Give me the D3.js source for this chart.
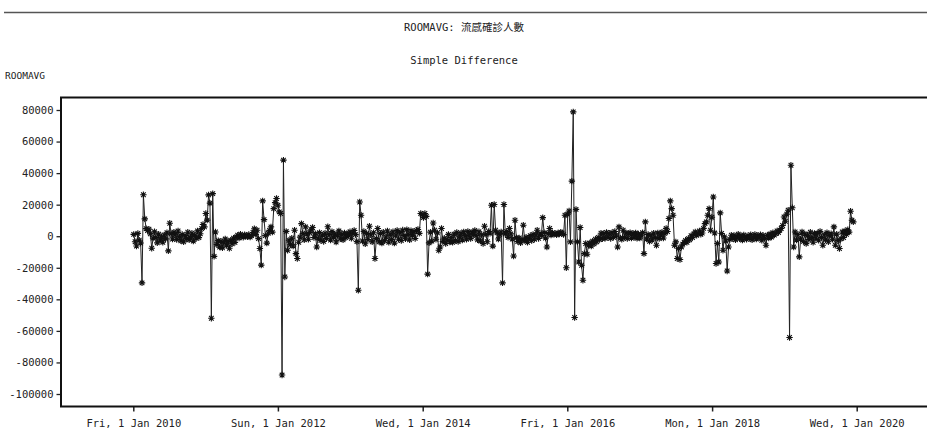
<!DOCTYPE html>
<html>
<head>
<meta charset="utf-8">
<script src="https://cdn.jsdelivr.net/npm/d3@7"></script>
<style>
  html, body { margin: 0; padding: 0; background: #fff; }
  svg { display: block; }
  text { font-family: "DejaVu Sans Mono", "Noto Sans CJK TC", monospace; fill: #222; }
</style>
</head>
<body>
<svg id="chart" width="927" height="437"></svg>
<script>
// Weekly first differences of confirmed influenza cases (ROOMAVG), one array per year.
const seriesName = "ROOMAVG";
const titleText = "ROOMAVG: 流感確診人數";
const subtitleText = "Simple Difference";
const firstWeek = new Date(2010, 0, 3);

const diff2010 = [1200,-3500,-6200,1800,-2500,-4300,-29600,26300,11000,4800,3600,4500,1500,-7600,-1200,2800,-900,-4200,1300,-2600,-500,-3800,800,-1700,2200,-9300,8200,1500,-1800,2600,900,-2100,3300,-400,-2900,1200,-3600,400,-1500,2500,-2200,-600,1900,-3100,700,-1300,3400,-900,1600,4800,7400,5900];
const diff2011 = [14400,10200,26200,21000,-52000,27000,-12800,2700,-5200,-2800,-6900,-3100,-7400,-4200,-1800,-5600,-3300,-7600,-2500,-4800,-1200,-3900,-400,600,-1100,1300,200,-700,900,300,-300,1100,-600,400,2400,4700,1200,3800,-1500,-7800,-18300,22400,10500,400,-4400,1900,3700,5900,2600,17500,21300,23900];
const diff2012 = [19600,15400,14400,-88000,48200,-25800,3100,-8900,-2600,-5400,-1300,-6200,3800,-11000,-14100,-3800,-600,8000,1700,-2200,5900,1300,-1900,2400,4000,5500,-800,1600,-6800,-1200,2300,-2800,700,-3300,1900,-1400,6000,1100,-2500,2900,-600,1400,-3700,800,3400,-1700,1200,-2300,2000,-900,1500,600];
const diff2013 = [2800,-1300,1900,3600,1000,-3400,-34200,21700,13300,-3000,3100,-4800,1700,-2100,6300,900,-3600,2200,-14100,-1500,4900,-3600,1800,-4400,2500,-2900,-500,3300,-3800,1300,-2100,2800,-4400,600,3600,-1900,2300,-2700,3900,400,-1600,4200,1100,-2300,3500,700,2900,-1400,3600,4300,1800,14400];
const diff2014 = [13700,11800,14400,12600,-24000,-4200,2600,-3100,8400,3800,-1900,2100,-8900,-6800,4900,-3300,-1200,-4600,-2100,1200,-3700,-800,-3900,1300,-2800,2400,-3400,-300,1900,-2500,2700,400,-1900,3100,800,-1500,2600,1100,3700,500,-2300,2800,-3000,900,-4600,6300,1200,-3500,3000,1900,19600,-6300];
const diff2015 = [20100,3800,2100,-1800,900,2700,-29600,20100,1600,2900,-700,4900,1500,-1800,-12500,10100,-900,-3400,-1100,-4200,-2300,7000,-2800,-600,-3900,-1500,400,-2700,1100,-1900,900,3800,-1400,1600,400,11800,2300,-1200,-6800,1800,4900,800,2200,1300,1800,900,2100,1400,2600,2000,1000,13300];
const diff2016 = [-20000,14000,16000,-3600,34900,78800,-51500,17000,-3600,-16300,5500,-18400,-27900,-11000,-4600,-11400,-5700,-4300,-6200,-3100,-4800,-1900,-3500,-800,-2100,1900,-1600,1800,-1300,2400,-800,1900,-1400,2200,-700,3000,600,-6800,5900,-1200,-1900,3800,-700,2100,-1500,1600,2300,-1200,1800,-600,2000,-1300];
const diff2017 = [1500,-1200,700,2300,-11000,9100,-1800,1200,-3200,600,-2400,1900,-900,-5700,2100,-1500,800,2600,-1100,1800,5000,3000,11200,22400,17500,13300,-5700,-3600,-14100,-7800,-14800,-6800,-5000,-4000,-2600,-3800,-1500,-2300,300,-900,1400,2700,600,1900,3300,1200,2000,5000,8000,9100,13300,17500];
const diff2018 = [3800,12000,24900,2000,-17300,-4600,-16300,14800,1700,-8900,-400,-3000,-22000,-6800,-2000,600,-1400,500,-2200,-700,1300,-1600,200,-2500,800,-900,-2000,400,-1300,1000,-2300,-500,1200,-1800,300,-1100,900,-2600,500,-1500,-5700,700,-1200,1500,-600,2200,800,1700,3300,2400,3900,4900];
const diff2019 = [6800,12200,9500,14000,16500,-64200,45000,18000,-6800,2700,-2400,1100,-13100,-1800,2700,-3300,1400,-4700,600,-2100,2500,-900,-3800,1800,-1300,1700,-2600,3100,-700,-5700,900,-2200,2300,-3500,400,1600,-1900,5900,-5700,1300,-2800,-7800,-1600,2700,-800,3400,1200,4100,2600,15800,10100,9100];

const yTickValues = [80000, 60000, 40000, 20000, 0, -20000, -40000, -60000, -80000, -100000];
const xTickDates = [new Date(2010,0,1), new Date(2012,0,1), new Date(2014,0,1), new Date(2016,0,1), new Date(2018,0,1), new Date(2020,0,1)];

const values = [].concat(diff2010, diff2011, diff2012, diff2013, diff2014, diff2015, diff2016, diff2017, diff2018, diff2019);
const data = values.map((v, i) => ({ date: d3.timeDay.offset(firstWeek, 7 * i), value: v }));

const svg = d3.select("#chart");

// page rule above the chart
svg.append("line").attr("x1", 4).attr("x2", 927).attr("y1", 12.5).attr("y2", 12.5)
  .attr("stroke", "#555").attr("stroke-width", 1.5);

const plot = { left: 61, top: 97.5, right: 932, bottom: 406.5 };

const x = d3.scaleTime().domain([new Date(2010,0,1), new Date(2020,0,1)]).range([133.3, 856.7]);
const y = d3.scaleLinear().domain([-100000, 80000]).range([394, 110]);

svg.append("text").attr("x", 464).attr("y", 31).attr("text-anchor", "middle")
  .style("font-size", "10.5px").text(titleText);
svg.append("text").attr("x", 464).attr("y", 63.5).attr("text-anchor", "middle")
  .style("font-size", "10.5px").text(subtitleText);
svg.append("text").attr("x", 5).attr("y", 79)
  .style("font-size", "9.5px").text(seriesName);

// axes
const yAxis = d3.axisLeft(y).tickValues(yTickValues).tickSize(4).tickPadding(3).tickFormat(d => String(d));
const gy = svg.append("g").attr("transform", `translate(${plot.left - 0.5},0)`).call(yAxis);
gy.select(".domain").remove();
gy.selectAll(".tick line").attr("stroke", "#222").attr("stroke-width", 1.3);
gy.selectAll(".tick text").style("font-size", "10.5px").attr("fill", "#222");

const xAxis = d3.axisBottom(x).tickValues(xTickDates).tickSize(5).tickPadding(8)
  .tickFormat(d3.timeFormat("%a, %-d %b %Y"));
const gx = svg.append("g").attr("transform", `translate(0,${plot.bottom})`).call(xAxis);
gx.select(".domain").remove();
gx.selectAll(".tick line").attr("stroke", "#222").attr("stroke-width", 1.5);
gx.selectAll(".tick text").style("font-size", "10.5px").attr("fill", "#222");

// frame
svg.append("rect").attr("x", plot.left).attr("y", plot.top)
  .attr("width", plot.right - plot.left).attr("height", plot.bottom - plot.top)
  .attr("fill", "none").attr("stroke", "#111").attr("stroke-width", 2);

// series line
const line = d3.line().x(d => x(d.date)).y(d => y(d.value));
svg.append("path").datum(data).attr("d", line)
  .attr("fill", "none").attr("stroke", "#222").attr("stroke-width", 1);

// asterisk markers
const r = 3.2, rd = r * 0.72;
const star = `M${-r},0L${r},0M0,${-r}L0,${r}M${-rd},${-rd}L${rd},${rd}M${-rd},${rd}L${rd},${-rd}`;
svg.append("g").selectAll("path").data(data).join("path")
  .attr("transform", d => `translate(${x(d.date)},${y(d.value)})`)
  .attr("d", star).attr("fill", "none").attr("stroke", "#111").attr("stroke-width", 1.1);
</script>
</body>
</html>
